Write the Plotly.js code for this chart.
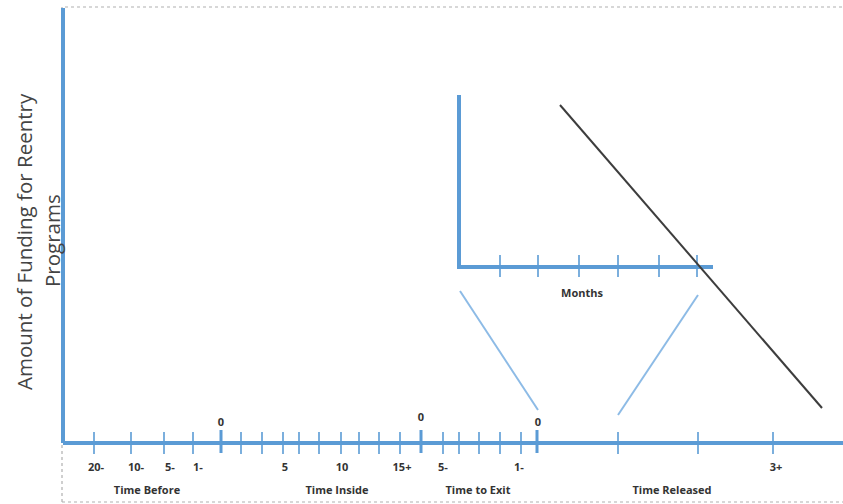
<!DOCTYPE html>
<html>
<head>
<meta charset="utf-8">
<script src="https://cdn.plot.ly/plotly-3.0.1.min.js"></script>
<style>html,body{margin:0;padding:0;background:#fff;}#chart{width:843px;height:504px;}</style>
</head>
<body>
<div id="chart"></div>
<script>
// ---- Diagram data (diagram units) ----
const mainAxisX = [63, 843];
const mainAxisY = 443;
const leftAxisY = [8, 443];
const mainTickX = [94, 131, 164, 193, 241, 262, 283, 299, 319, 341, 359, 379, 400, 443, 459, 479, 500, 521, 618, 698, 773];
const zeroTickX = [221, 421, 537];
const belowLabels = ["20-", "10-", "5-", "1-", "5", "10", "15+", "5-", "1-", "3+"];
const belowLabelX = [96, 136, 170, 198, 285, 342, 402, 443, 519, 776];
const zeroLabels = ["0", "0", "0"];
const zeroLabelX = [221, 421, 538];
const zeroLabelY = [423, 418, 423];
const groupLabels = ["Time Before", "Time Inside", "Time to Exit", "Time Released"];
const groupLabelX = [147, 337, 478, 672];

const insetVX = 459, insetVY = [95, 267];
const insetHX = [459, 713], insetHY = 267;
const insetTickX = [500, 538, 579, 618, 659, 697];
const insetLabel = "Months";

const zoomLeftX = [460, 538], zoomLeftY = [291, 410];
const zoomRightX = [618, 698], zoomRightY = [415, 295];
const fundingX = [560, 822], fundingY = [105, 408];

const frameX = [62, 62, 843], frameY = [502, 7, 7];
const frameBottomX = [62, 843], frameBottomY = [502, 502];

const titleLine1 = "Amount of Funding for Reentry";
const titleLine2 = "Programs";

const BLUE = "#5b9bd5";
const LIGHT = "#8dbbe6";
const LABEL_FONT = {family: "Open Sans", size: 11, color: "#333", weight: "bold"};

function tickTrace(xs, y0, y1, width, color) {
  const x = [], y = [];
  xs.forEach(v => { x.push(v, v, null); y.push(y0, y1, null); });
  return {x, y, mode: "lines", line: {color, width}, hoverinfo: "skip", showlegend: false};
}

const traces = [
  // frame (dotted)
  {x: frameX, y: frameY, mode: "lines", line: {color: "#b0b0b0", width: 1.2, dash: "dot"}, hoverinfo: "skip", showlegend: false},
  {x: frameBottomX, y: frameBottomY, mode: "lines", line: {color: "#b0b0b0", width: 1.2, dash: "dot"}, hoverinfo: "skip", showlegend: false},
  // left axis
  {x: [63, 63], y: leftAxisY, mode: "lines", line: {color: BLUE, width: 4}, hoverinfo: "skip", showlegend: false},
  // main axis
  {x: mainAxisX, y: [mainAxisY, mainAxisY], mode: "lines", line: {color: BLUE, width: 4}, hoverinfo: "skip", showlegend: false},
  tickTrace(mainTickX, mainAxisY - 11, mainAxisY + 11, 1.6, BLUE),
  tickTrace(zeroTickX, mainAxisY - 13, mainAxisY + 10, 3, BLUE),
  // inset axes
  {x: [insetVX, insetVX, insetHX[1]], y: [insetVY[0], insetHY, insetHY], mode: "lines", line: {color: BLUE, width: 4}, hoverinfo: "skip", showlegend: false},
  tickTrace(insetTickX, insetHY - 12, insetHY + 10, 1.6, BLUE),
  // zoom connectors
  {x: zoomLeftX, y: zoomLeftY, mode: "lines", line: {color: LIGHT, width: 2}, hoverinfo: "skip", showlegend: false},
  {x: zoomRightX, y: zoomRightY, mode: "lines", line: {color: LIGHT, width: 2}, hoverinfo: "skip", showlegend: false},
  // funding line
  {x: fundingX, y: fundingY, mode: "lines", line: {color: "#3d3d3d", width: 2}, hoverinfo: "skip", showlegend: false},
  // labels
  {x: belowLabelX, y: belowLabelX.map(() => 468), mode: "text", text: belowLabels,
   textfont: LABEL_FONT, textposition: "middle center", hoverinfo: "skip", showlegend: false},
  {x: zeroLabelX, y: zeroLabelY, mode: "text", text: zeroLabels,
   textfont: LABEL_FONT, textposition: "middle center", hoverinfo: "skip", showlegend: false},
  {x: groupLabelX, y: groupLabelX.map(() => 491), mode: "text", text: groupLabels,
   textfont: LABEL_FONT, textposition: "middle center", hoverinfo: "skip", showlegend: false},
  {x: [582], y: [294], mode: "text", text: [insetLabel],
   textfont: LABEL_FONT, textposition: "middle center", hoverinfo: "skip", showlegend: false}
];

const layout = {
  width: 843, height: 504,
  margin: {l: 0, r: 0, t: 0, b: 0},
  paper_bgcolor: "#fff", plot_bgcolor: "#fff",
  xaxis: {range: [0, 843], visible: false, fixedrange: true},
  yaxis: {range: [504, 0], visible: false, fixedrange: true},
  showlegend: false,
  annotations: [
    {x: 24, y: 242, xref: "x", yref: "y", text: titleLine1, showarrow: false, textangle: -90,
     font: {family: "Open Sans", size: 20.5, color: "#444"}},
    {x: 52, y: 241, xref: "x", yref: "y", text: titleLine2, showarrow: false, textangle: -90,
     font: {family: "Open Sans", size: 20.5, color: "#444"}}
  ]
};

Plotly.newPlot("chart", traces, layout, {displayModeBar: false, staticPlot: true});
</script>
</body>
</html>
